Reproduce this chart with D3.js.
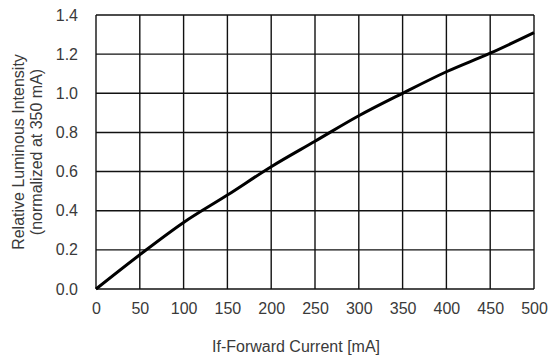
<!DOCTYPE html>
<html>
<head>
<meta charset="utf-8">
<script src="https://cdn.jsdelivr.net/npm/d3@7"></script>
<style>
  body { margin: 0; background: #fff; }
  svg { display: block; font-family: "Liberation Sans", Arial, sans-serif; }
</style>
</head>
<body>
<svg></svg>
<script>
// data
const current = [0, 50, 100, 150, 200, 250, 300, 350, 400, 450, 500]
const intensity = [0, 0.175, 0.34, 0.48, 0.625, 0.755, 0.885, 1.0, 1.11, 1.205, 1.31]
const xTicks = [0, 50, 100, 150, 200, 250, 300, 350, 400, 450, 500]
const yTicks = [0, 0.2, 0.4, 0.6, 0.8, 1.0, 1.2, 1.4]

const w = 555
const h = 362
const padLeft = 96, padRight = 534, padTop = 15, padBottom = 289

let svg = d3.select('svg').attr('width', w).attr('height', h)

let xScale = d3.scaleLinear().domain([0, 500]).range([padLeft, padRight])
let yScale = d3.scaleLinear().domain([0, 1.4]).range([padBottom, padTop])

// grid
let grid = svg.append('g')
grid.selectAll('.vg')
  .data(xTicks)
  .enter()
  .append('line')
  .attr('x1', d => xScale(d)).attr('x2', d => xScale(d))
  .attr('y1', padTop).attr('y2', padBottom)
  .attr('stroke', '#111').attr('stroke-width', 1.4)
grid.selectAll('.hg')
  .data(yTicks)
  .enter()
  .append('line')
  .attr('x1', padLeft).attr('x2', padRight)
  .attr('y1', d => yScale(d)).attr('y2', d => yScale(d))
  .attr('stroke', '#111').attr('stroke-width', 1.4)

// axes (labels only)
let xAxis = d3.axisBottom(xScale).tickValues(xTicks).tickSize(0).tickPadding(14).tickFormat(d3.format('d'))
let gx = svg.append('g').attr('transform', 'translate(0,' + padBottom + ')').call(xAxis)
gx.select('.domain').remove()
gx.selectAll('text').attr('font-size', 16).attr('fill', '#3a3a3a').attr('font-family', null)

let yAxis = d3.axisLeft(yScale).tickValues(yTicks).tickSize(0).tickPadding(18).tickFormat(d3.format('.1f'))
let gy = svg.append('g').attr('transform', 'translate(' + padLeft + ',0)').call(yAxis)
gy.select('.domain').remove()
gy.selectAll('text').attr('font-size', 16).attr('fill', '#3a3a3a').attr('font-family', null)

// curve
let pts = current.map((c, i) => [c, intensity[i]])
let line = d3.line()
  .x(d => xScale(d[0]))
  .y(d => yScale(d[1]))
  .curve(d3.curveMonotoneX)
svg.append('path')
  .datum(pts)
  .attr('d', line)
  .attr('fill', 'none')
  .attr('stroke', '#000')
  .attr('stroke-width', 3)

// titles
svg.append('text')
  .attr('x', 296).attr('y', 352)
  .attr('text-anchor', 'middle')
  .attr('font-size', 16).attr('fill', '#3a3a3a')
  .text('If-Forward Current [mA]')

let yt = svg.append('text')
  .attr('transform', 'translate(0,152) rotate(-90)')
  .attr('text-anchor', 'middle')
  .attr('font-size', 16).attr('fill', '#3a3a3a')
yt.append('tspan').attr('x', 0).attr('y', 24).text('Relative Luminous Intensity')
yt.append('tspan').attr('x', 0).attr('y', 42).text('(normalized at 350 mA)')
</script>
</body>
</html>
